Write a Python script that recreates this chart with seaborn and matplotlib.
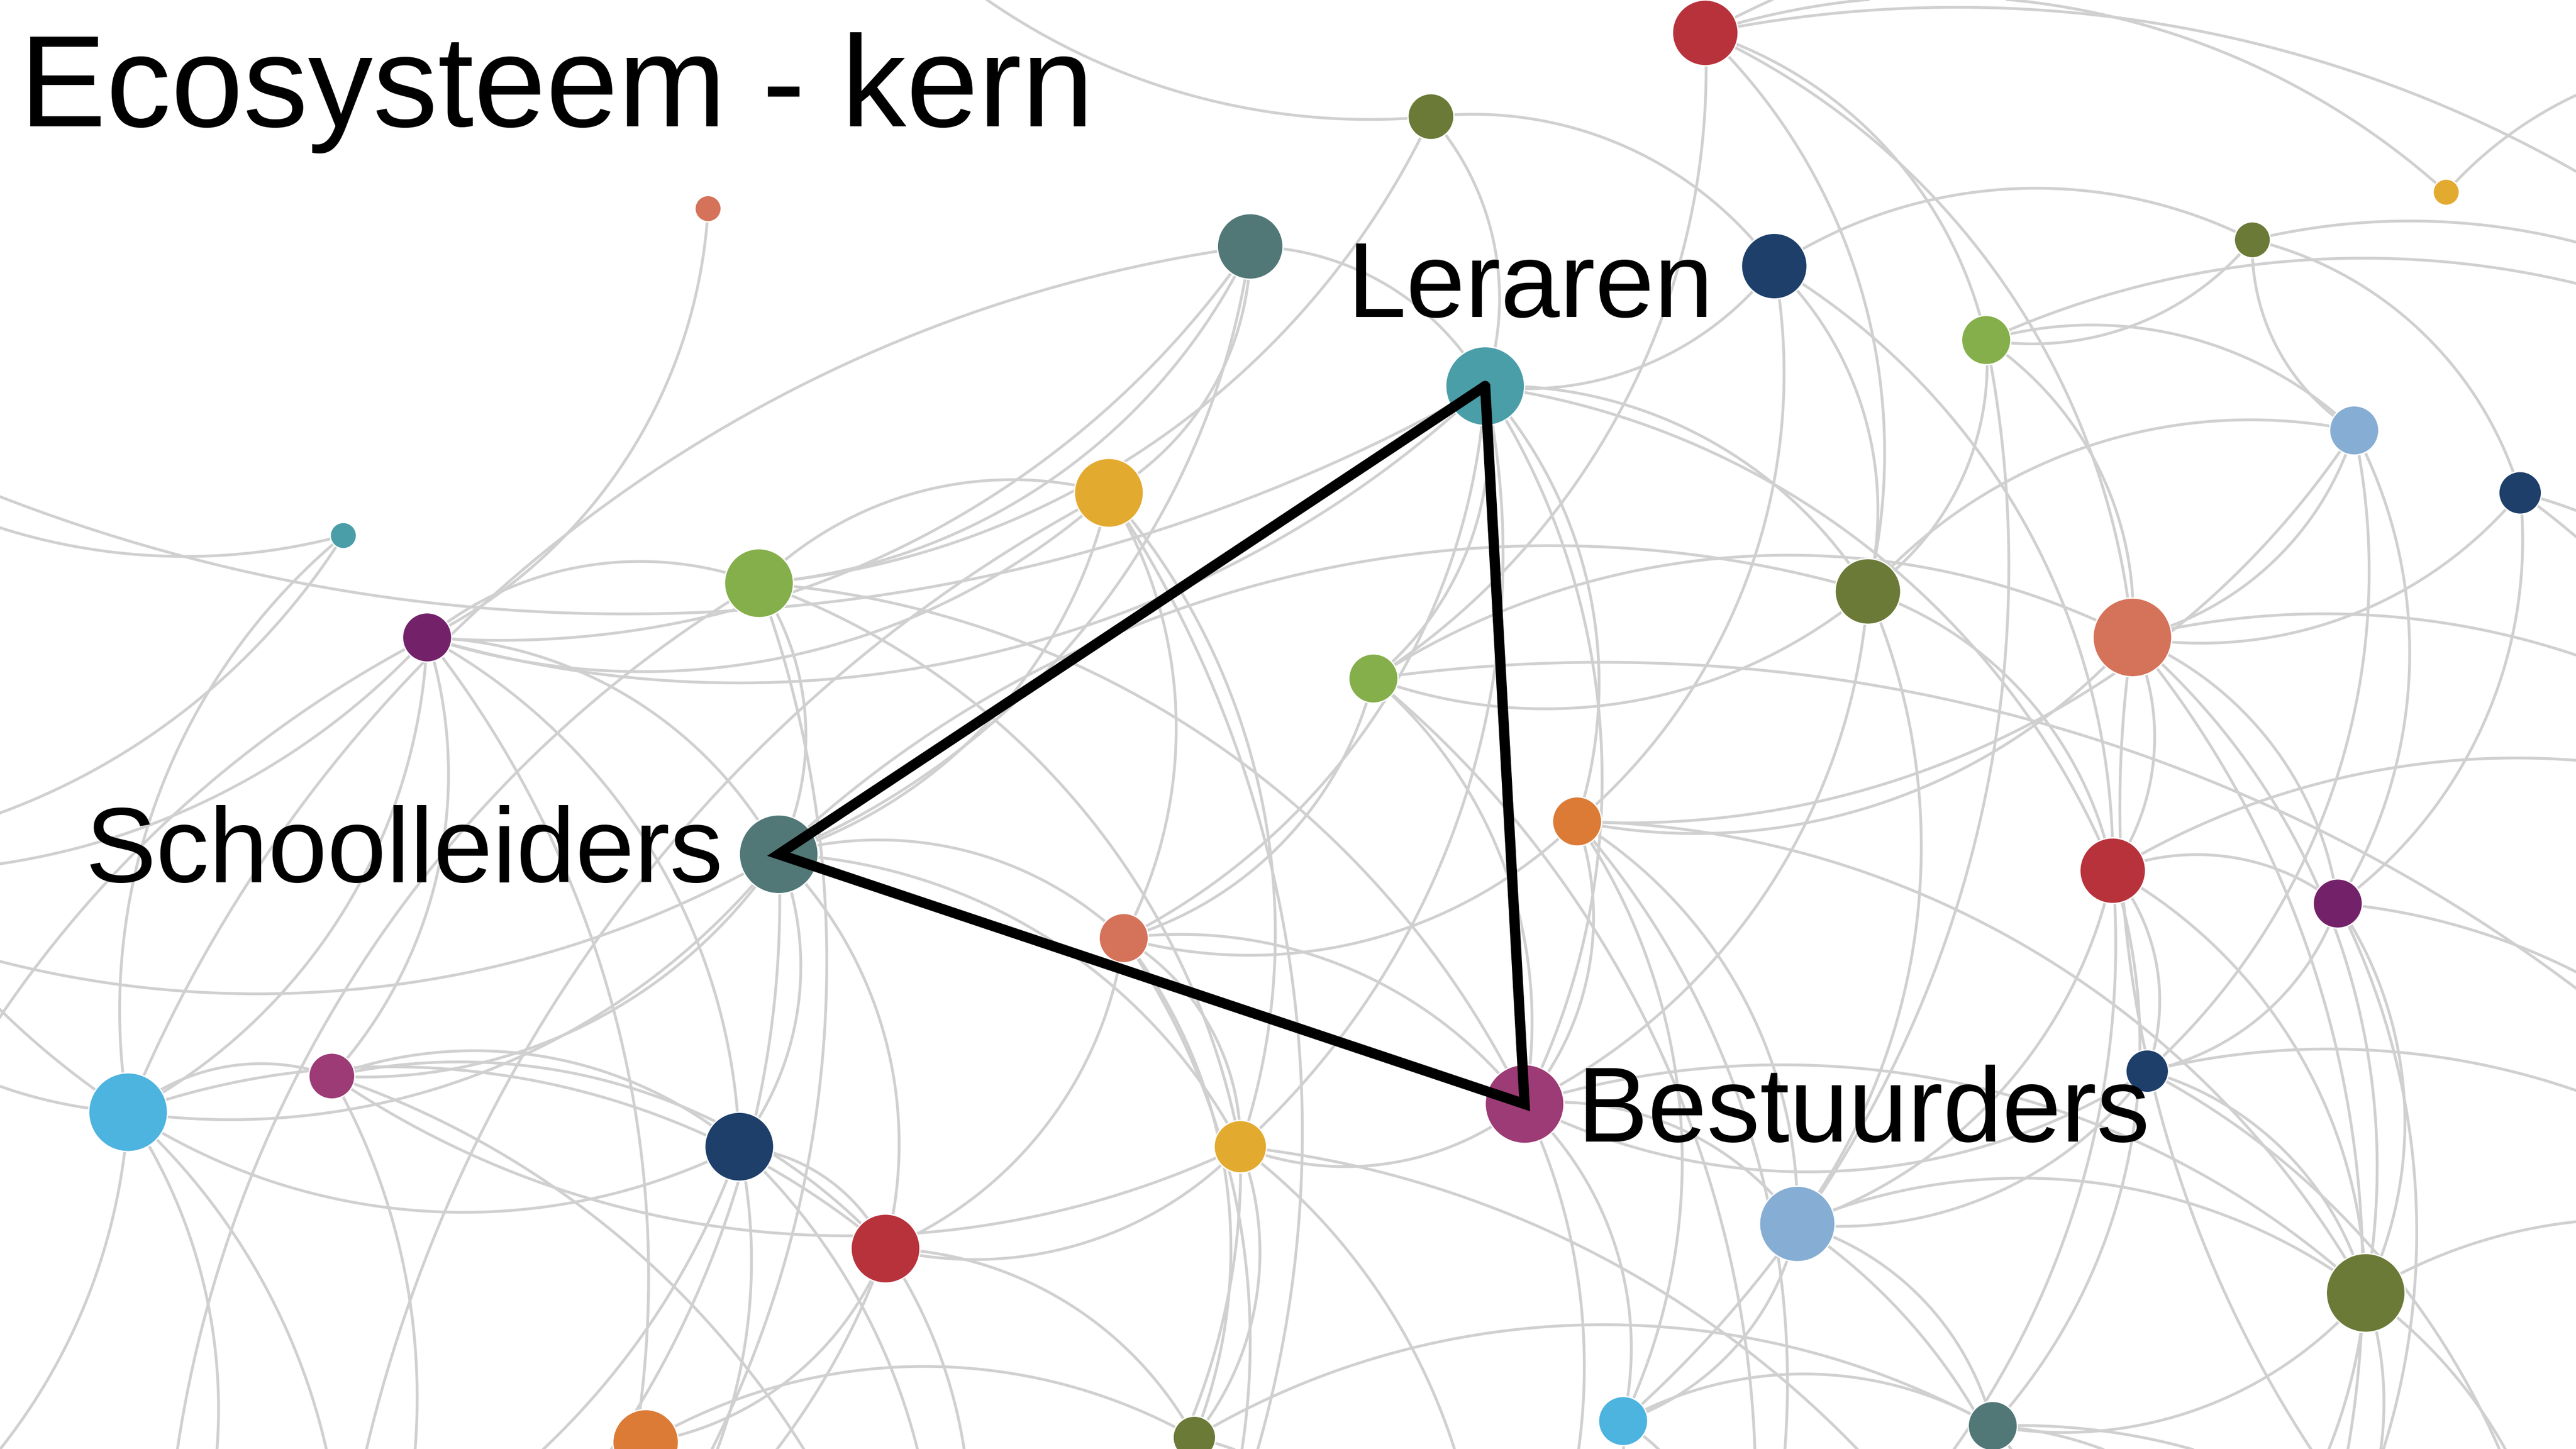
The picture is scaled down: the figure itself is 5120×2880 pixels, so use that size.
import numpy as np
import pandas as pd
import matplotlib
matplotlib.use("Agg")
import matplotlib.pyplot as plt
import seaborn as sns

# visible nodes (picture coordinates, 1568 x 882 frame)
node_x = [1038, 871, 1489, 431, 761, 1080, 1371, 904, 1209, 675,
          1433, 1534, 209, 462, 260, 1137, 1298, 836, 474, 960,
          1286, 1423, 684, 1307, 78, 202, 928, 450, 755, 1094,
          539, 1440, 393, 727, 988, 1213]
node_y = [20, 71, 117, 127, 150, 162, 146, 235, 207, 300,
          262, 300, 326, 355, 388, 360, 388, 413, 520, 500,
          530, 550, 571, 652, 677, 655, 672, 698, 698, 745,
          760, 787, 878, 875, 865, 868]
node_d = [40, 28, 16, 16, 40, 40, 22, 48, 30, 42,
          30, 26, 16, 42, 30, 40, 48, 30, 48, 30,
          40, 30, 30, 26, 48, 28, 48, 42, 32, 46,
          42, 48, 40, 26, 30, 30]
node_color = ["#B8323C", "#6B7A37", "#E3AA30", "#D5735A", "#517877", "#1D3F6A",
              "#6B7A37", "#4A9EA8", "#85AF4B", "#E3AA30", "#86ADD3", "#1D3F6A",
              "#4A9EA8", "#85AF4B", "#73226A", "#6B7A37", "#D5735A", "#85AF4B",
              "#517877", "#DB7B36", "#B8323C", "#73226A", "#D5735A", "#1D3F6A",
              "#4DB3DF", "#9C3B75", "#9C3B75", "#1D3F6A", "#E3AA30", "#86ADD3",
              "#B8323C", "#6B7A37", "#DB7B36", "#6B7A37", "#4DB3DF", "#517877"]

# nodes just outside the frame that edges run to
ghost_x = [-150, -120, 200, 560, 900, 1250, 1560, 1750, 1760, 1760, 1720, 1300, 500, -160, 100,
           350, 720, 1060, 1400]
ghost_y = [230, 980, 1050, 1060, 1040, 1060, 1050, 780, 520, 260, 40, -120, -100, 520, 1000,
           1010, 1000, 1010, 990]

edges = [
    (0, 46), (0, 45), (0, 2), (0, 15), (0, 16), (0, 17), (0, 8),
    (1, 7), (1, 5), (1, 48), (1, 13),
    (3, 14),
    (4, 7), (4, 13), (4, 14), (24, 4), (4, 9), (4, 18),
    (5, 7), (5, 6), (5, 15), (5, 20), (5, 19),
    (6, 8), (6, 45), (6, 11), (10, 6),
    (7, 14), (7, 15), (7, 19), (7, 17), (7, 26), (7, 22), (7, 36), (7, 28), (7, 20),
    (8, 10), (8, 15), (8, 16), (8, 34),
    (9, 18), (9, 22), (9, 28), (13, 9), (9, 14),
    (10, 16), (10, 23), (10, 21), (15, 10), (10, 19),
    (11, 16), (11, 44), (11, 21),
    (24, 12),
    (13, 18), (14, 13), (13, 26), (13, 28),
    (14, 24), (14, 25), (14, 18), (14, 27), (14, 49),
    (15, 20), (15, 26), (15, 29), (18, 15), (15, 17),
    (16, 20), (16, 21), (16, 44), (16, 31), (17, 16), (16, 19),
    (17, 26), (17, 22), (17, 43),
    (18, 24), (18, 25), (18, 27), (18, 30), (18, 28), (18, 22), (18, 49), (18, 38),
    (19, 26), (19, 34), (19, 29), (19, 31), (19, 22),
    (20, 21), (20, 23), (20, 31), (20, 35), (20, 44), (20, 29),
    (21, 31), (21, 43), (21, 23),
    (22, 28), (22, 30), (22, 26), (22, 33),
    (23, 29), (23, 31), (23, 43), (23, 26),
    (24, 25), (24, 37), (24, 50), (24, 38), (24, 49), (24, 30), (24, 36),
    (28, 25), (25, 30), (25, 27), (25, 38),
    (26, 29), (26, 34), (26, 28), (26, 40), (26, 31),
    (27, 30), (27, 39), (27, 24),
    (28, 33), (28, 40), (28, 39), (28, 30),
    (29, 34), (29, 35), (29, 31), (29, 41),
    (30, 32), (30, 39), (30, 38), (30, 33),
    (31, 42), (31, 43), (31, 41), (31, 35),
    (32, 38), (32, 33),
    (33, 40), (33, 35),
    (34, 40), (34, 35),
    (35, 41), (35, 42),
    (50, 13), (38, 9), (42, 16), (37, 14),
    (13, 51), (9, 52), (17, 53), (16, 54), (14, 51), (22, 52), (19, 53), (21, 54),
    (28, 41), (25, 39), (27, 50), (32, 39), (12, 36), (2, 46), (11, 43), (8, 45),
    (12, 49), (27, 51), (33, 52), (34, 53), (35, 54), (31, 54), (20, 53), (23, 42),
]

core = [7, 18, 26]
labels = ["Leraren", "Schoolleiders", "Bestuurders"]
label_x = [820, 52, 960]
label_y = [193, 537, 695]
title = "Ecosysteem - kern"

all_x = node_x + ghost_x
all_y = node_y + ghost_y


def arc_points(x1, y1, x2, y2, n=80):
    # circular arc with radius equal to the chord, like a d3 link arc
    dx, dy = x2 - x1, y2 - y1
    d = np.hypot(dx, dy)
    r = d
    mx, my = (x1 + x2) / 2, (y1 + y2) / 2
    h = np.sqrt(r ** 2 - (d / 2) ** 2)
    nx, ny = -dy / d, dx / d
    cx, cy = mx + nx * h, my + ny * h
    a1 = np.arctan2(y1 - cy, x1 - cx)
    a2 = np.arctan2(y2 - cy, x2 - cx)
    da = (a2 - a1 + np.pi) % (2 * np.pi) - np.pi
    t = a1 + da * np.linspace(0, 1, n)
    return cx + r * np.cos(t), cy + r * np.sin(t)


sns.set_theme(style="white")
plt.rcParams['font.family'] = ['Liberation Sans', 'DejaVu Sans']

fig = plt.figure(figsize=(16, 9), dpi=320)
ax = fig.add_axes([0, 0, 1, 1])

for a, b in edges:
    xs, ys = arc_points(all_x[a], all_y[a], all_x[b], all_y[b])
    ax.plot(xs, ys, color="#D0D0D0", lw=1.25, zorder=1, solid_capstyle="round")

# marker area: 1 data unit = 16in/1568 = 0.7347 pt
pt_per_unit = 16 * 72 / 1568
nodes = pd.DataFrame({"x": node_x, "y": node_y, "d": node_d,
                      "id": [f"n{i}" for i in range(len(node_x))]})
palette = {f"n{i}": c for i, c in enumerate(node_color)}
sns.scatterplot(data=nodes, x="x", y="y", hue="id", palette=palette,
                s=(nodes["d"] * pt_per_unit) ** 2, edgecolor="white", linewidth=0.6,
                legend=False, ax=ax, zorder=3)

tri_x = [node_x[i] for i in core] + [node_x[core[0]]]
tri_y = [node_y[i] for i in core] + [node_y[core[0]]]
ax.plot(tri_x, tri_y, color="black", lw=4.6, solid_joinstyle="miter", zorder=4)

for s, x, y in zip(labels, label_x, label_y):
    ax.text(x, y, s, fontsize=47.5, color="black", ha="left", va="baseline", zorder=5)
ax.text(12, 77, title, fontsize=58, color="black", ha="left", va="baseline", zorder=5)

ax.set_xlim(0, 1568)
ax.set_ylim(882, 0)
ax.set_axis_off()

fig.savefig("out.png", dpi=320, facecolor="white")
